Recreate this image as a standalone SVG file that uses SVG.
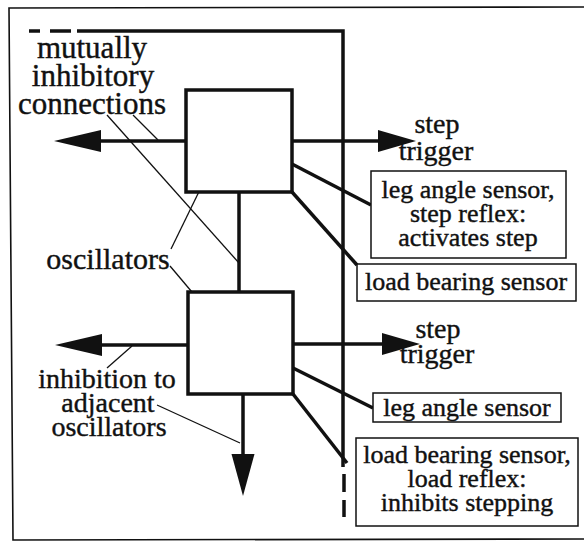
<svg xmlns="http://www.w3.org/2000/svg" width="584" height="544" viewBox="0 0 584 544">
<style>
  .t { font-family: "Liberation Serif", "Times New Roman", serif; fill: #111; stroke: #111; stroke-width: 0.4; text-anchor: middle; }
  .lg { font-size: 31px; }
  .md { font-size: 28px; }
  .bx { font-size: 26px; }
  .osc { fill: #fff; stroke: #111; stroke-width: 3.5; }
  .lbl { fill: #fff; stroke: #111; stroke-width: 1.5; }
  .thick { stroke: #111; stroke-width: 3.5; fill: none; }
  .thin { stroke: #111; stroke-width: 1.3; fill: none; }
  .frame { stroke: #111; stroke-width: 1.6; fill: none; }
</style>
<defs>
  <marker id="headL" markerUnits="userSpaceOnUse" markerWidth="50" markerHeight="26" refX="1" refY="11" orient="auto" overflow="visible">
    <path d="M0,0 L47,11 L0,22 Z" fill="#111"/>
  </marker>
  <marker id="headS" markerUnits="userSpaceOnUse" markerWidth="42" markerHeight="26" refX="1" refY="11" orient="auto" overflow="visible">
    <path d="M0,0 L38,11 L0,22 Z" fill="#111"/>
  </marker>
  <marker id="headD" markerUnits="userSpaceOnUse" markerWidth="46" markerHeight="26" refX="1" refY="11.5" orient="auto" overflow="visible">
    <path d="M0,0 L42,11.5 L0,23 Z" fill="#111"/>
  </marker>
</defs>
<rect width="584" height="544" fill="#fff"/>
<path class="frame" d="M584,7 L9,8 L13,540 L584,539"/>

<g id="connectors">
  <!-- dashed enclosure -->
  <path class="thick" d="M77,31 H343 V467"/>
  <path class="thick" d="M29,31 H40 M50,31 H71"/>
  <path class="thick" d="M344,474 V492 M344,500 V517"/>
  <!-- between oscillators -->
  <line class="thick" x1="239" y1="192" x2="239" y2="292"/>
  <!-- upper oscillator arrows -->
  <line class="thick" x1="186" y1="141" x2="100" y2="141" marker-end="url(#headL)"/>
  <line class="thick" x1="292" y1="141" x2="379" y2="141" marker-end="url(#headS)"/>
  <line class="thick" x1="292" y1="164" x2="371" y2="205"/>
  <line class="thick" x1="292" y1="192" x2="357" y2="265"/>
  <!-- lower oscillator arrows -->
  <line class="thick" x1="188" y1="345" x2="101" y2="345" marker-end="url(#headL)"/>
  <line class="thick" x1="293" y1="344" x2="383" y2="344" marker-end="url(#headS)"/>
  <line class="thick" x1="293" y1="368" x2="373" y2="408"/>
  <line class="thick" x1="293" y1="394" x2="347" y2="463"/>
  <line class="thick" x1="243" y1="394" x2="243" y2="455" marker-end="url(#headD)"/>
  <!-- leader lines -->
  <line class="thin" x1="107" y1="115" x2="239" y2="263"/>
  <line class="thin" x1="133" y1="115" x2="158" y2="140"/>
  <line class="thin" x1="171" y1="249" x2="212" y2="165"/>
  <line class="thin" x1="170" y1="266" x2="213" y2="317"/>
  <line class="thin" x1="107" y1="368" x2="132" y2="346"/>
  <line class="thin" x1="157" y1="405" x2="240" y2="443"/>
</g>

<g id="osc-upper"><rect class="osc" x="186" y="90" width="106" height="102"/></g>
<g id="osc-lower"><rect class="osc" x="188" y="292" width="105" height="102"/></g>

<g id="label-mutual">
  <text class="t lg" x="92" y="58">mutually</text>
  <text class="t lg" x="93" y="86">inhibitory</text>
  <text class="t lg" x="92" y="114">connections</text>
</g>
<g id="label-oscillators"><text class="t lg" x="108" y="269" style="font-size:30px">oscillators</text></g>
<g id="label-inhibition">
  <text class="t md" x="107" y="388">inhibition to</text>
  <text class="t md" x="108" y="412">adjacent</text>
  <text class="t md" x="109" y="436">oscillators</text>
</g>
<g id="label-step-upper">
  <text class="t md" x="437" y="133">step</text>
  <text class="t md" x="436" y="160">trigger</text>
</g>
<g id="label-step-lower">
  <text class="t md" x="438" y="338">step</text>
  <text class="t md" x="437" y="363">trigger</text>
</g>

<g id="box-leg-upper">
  <rect class="lbl" x="371" y="171" width="195" height="87"/>
  <text class="t bx" x="468" y="198">leg angle sensor,</text>
  <text class="t bx" x="468" y="222">step reflex:</text>
  <text class="t bx" x="468" y="246">activates step</text>
</g>
<g id="box-load-upper">
  <rect class="lbl" x="357" y="264" width="219" height="37"/>
  <text class="t bx" x="466" y="290">load bearing sensor</text>
</g>
<g id="box-leg-lower">
  <rect class="lbl" x="373" y="393" width="188" height="29"/>
  <text class="t bx" x="467" y="416">leg angle sensor</text>
</g>
<g id="box-load-lower">
  <rect class="lbl" x="356" y="438" width="222" height="88"/>
  <text class="t bx" x="467" y="463">load bearing sensor,</text>
  <text class="t bx" x="467" y="487">load reflex:</text>
  <text class="t bx" x="467" y="511">inhibits stepping</text>
</g>
</svg>
